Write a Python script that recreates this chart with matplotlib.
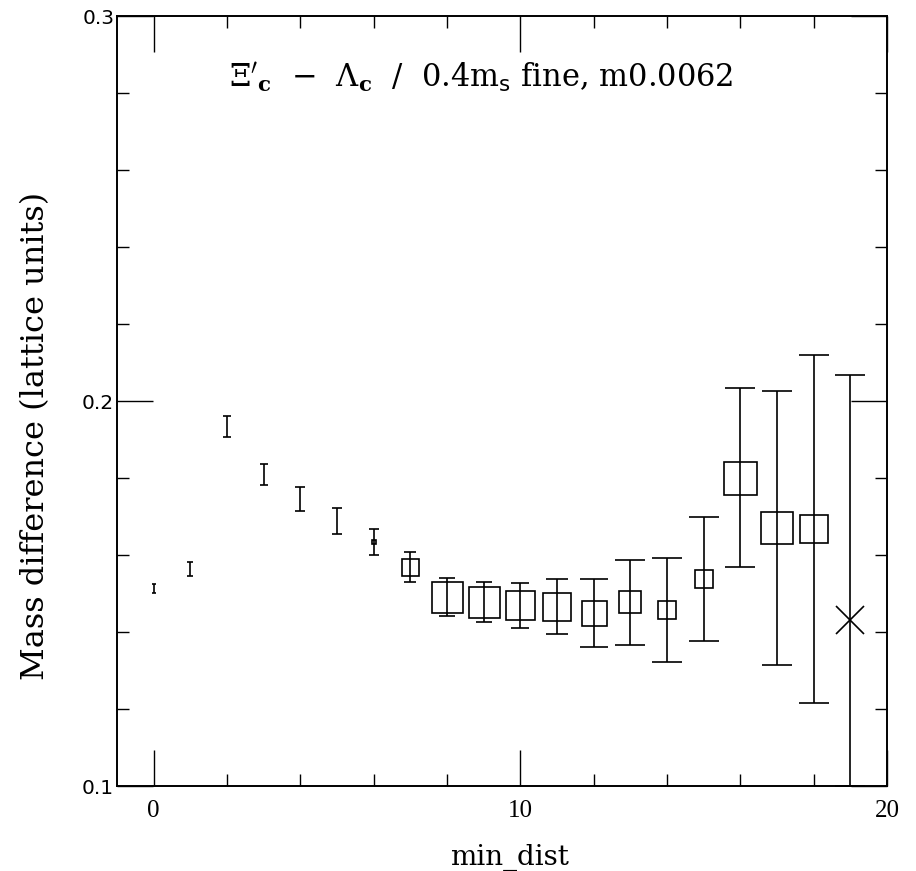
import matplotlib
matplotlib.use("Agg")
import matplotlib.pyplot as plt
import numpy as np

# data
min_dist = [0, 1, 2, 3, 4, 5, 6, 7, 8, 9, 10, 11, 12, 13, 14, 15, 16, 17, 18, 19]
mass_diff = [0.1513, 0.1564, 0.1934, 0.1810, 0.1745, 0.1688, 0.1634, 0.1569,
             0.1491, 0.1478, 0.1469, 0.1466, 0.1449, 0.1477, 0.1457, 0.1538,
             0.1801, 0.1670, 0.1668, 0.1431]
mass_err = [0.0012, 0.0018, 0.0027, 0.0027, 0.0031, 0.0034, 0.0034, 0.0039,
            0.0049, 0.0052, 0.0059, 0.0071, 0.0088, 0.0110, 0.0135, 0.0161,
            0.0232, 0.0356, 0.0452, 0.0637]
# symbol size (fit quality), last point drawn as a cross
box_size = [0, 0, 0, 0, 0, 0, 4, 17, 31, 31, 29, 27, 25, 22, 18, 18, 33, 32, 28, 27]
symbol = ['s'] * 19 + ['x']

title = (r"$\Xi'_{\mathbf{c}}$  $-$  $\Lambda_{\mathbf{c}}$  /  "
         r"0.4m$_{\mathsf{s}}$ fine, m0.0062")

plt.rcParams['mathtext.fontset'] = 'dejavuserif'

dpi = 100
fig = plt.figure(figsize=(9.16, 8.71), dpi=dpi)
ax = fig.add_axes([117/916, 1-786/871, 770/916, 770/871])
ax.set_xlim(-1, 20)
ax.set_ylim(0.1, 0.3)

px = dpi / 72.0
# pixels per data unit along y, for the cap widths
y_px = ax.transData.transform([(0, 0), (0, 1)])
y_scale = abs(y_px[1][1] - y_px[0][1])

ymin = ax.get_ylim()[0]
for x, y, e, sz, m in zip(min_dist, mass_diff, mass_err, box_size, symbol):
    cap_px = min(0.8 * e * y_scale, 30)
    lower = min(e, y - ymin)
    ax.errorbar([x], [y], yerr=[[lower], [e]], fmt='none', ecolor='black',
                elinewidth=1.2, capsize=cap_px / 2 / px, capthick=1.2)
    if sz > 0:
        ax.plot([x], [y], linestyle='none', marker=m, markersize=sz / px,
                markerfacecolor='none', markeredgecolor='black', markeredgewidth=1.2)

ax.set_xticks([0, 10, 20])
ax.set_xticks(np.arange(0, 20, 2), minor=True)
ax.set_yticks([0.1, 0.2, 0.3])
ax.set_yticks(np.arange(0.12, 0.3, 0.02), minor=True)
ax.xaxis.set_major_formatter(matplotlib.ticker.FixedFormatter(['0', '10', '20']))
ax.yaxis.set_major_formatter(matplotlib.ticker.FixedFormatter(['0.1', '0.2', '0.3']))

ax.tick_params(which='both', direction='in', top=True, right=True, color='black')
ax.tick_params(which='major', length=36 / px, width=1.0)
ax.tick_params(which='minor', length=12 / px, width=1.0)
ax.tick_params(axis='x', which='major', pad=10, labelsize=18,
               labelfontfamily='Liberation Serif')
ax.tick_params(axis='y', which='major', pad=2, labelsize=14.5,
               labelfontfamily='DejaVu Sans')
for s in ax.spines.values():
    s.set_linewidth(1.4)

ax.text((481-117)/770, (786-87)/770, title, transform=ax.transAxes,
        ha='center', va='baseline', family='DejaVu Serif', fontsize=22)
ax.text((509-117)/770, (786-865)/770, 'min_dist', transform=ax.transAxes,
        ha='center', va='baseline', family='DejaVu Serif', fontsize=20)
ax.text((36-117)/770, (786-436)/770, 'Mass difference (lattice units)',
        transform=ax.transAxes, rotation=90, ha='center', va='center',
        family='DejaVu Serif', fontsize=23)

fig.savefig('out.png', dpi=dpi)
